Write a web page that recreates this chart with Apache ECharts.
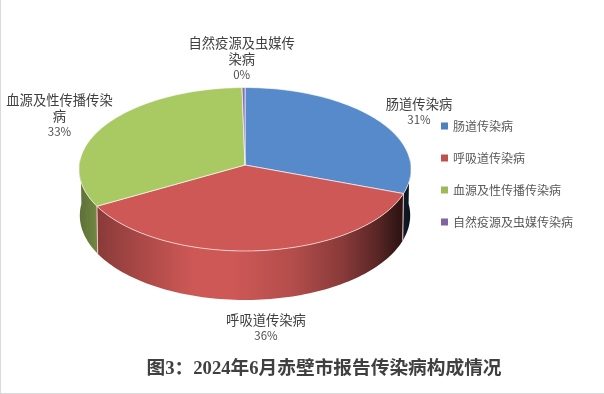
<!DOCTYPE html>
<html>
<head>
<meta charset="utf-8">
<style>
html,body{margin:0;padding:0;background:#fff;}
#main{position:absolute;left:0;top:0;width:604px;height:394px;}
</style>
<script src="https://cdn.jsdelivr.net/npm/echarts@6/dist/echarts.min.js"></script>
</head>
<body>
<div id="main"></div>
<script>
var categories = ['肠道传染病', '呼吸道传染病', '血源及性传播传染病', '自然疫源及虫媒传染病'];
var values = [30.6, 36.2, 32.9, 0.3];
var labelLines = ['肠道传染病', '呼吸道传染病', '血源及性传播传染\n病', '自然疫源及虫媒传\n染病'];
var legendColors = ['#4F81BD', '#C0504D', '#9BBB59', '#8064A2'];
var faceColors = ['#568ACA', '#CE5856', '#A9C963', '#8D6BB0'];
var titleText = '图3：2024年6月赤壁市报告传染病构成情况';

var labelAnchors = [[419, 96], [266, 312], [59.5, 92], [241.7, 35]];
var G = {cx: 245, cy: 165, a: 165.8, b: 81.5, k: -0.052};
var shade = [[0, .55], [.05, .66], [.2, .84], [.345, 1], [.465, 1], [.645, .87], [.795, .66], [.895, .44], [.975, .2], [1, .13]];
var FONT = '"Noto Sans CJK SC","Microsoft YaHei",sans-serif';

function hexMul(hex, f) {
  var n = parseInt(hex.slice(1), 16);
  var c = [(n >> 16) & 255, (n >> 8) & 255, n & 255].map(function (x) { return Math.round(x * f); });
  return 'rgb(' + c.join(',') + ')';
}
function topPt(t) {
  var r = t * Math.PI / 180, u = Math.sin(r), v = -Math.cos(r), d = 1 + G.k * v;
  return [G.cx + G.a * u / d, G.cy + G.b * v / d];
}
function botPt(t) {
  var r = t * Math.PI / 180, v = -Math.cos(r), p = topPt(t);
  return [G.cx + (p[0] - G.cx) * 0.995, p[1] + 46 + 3 * Math.max(v, 0)];
}
var total = values.reduce(function (s, x) { return s + x; }, 0);
function startAngle(i) {
  var s = 0;
  for (var j = 0; j < i; j++) s += values[j];
  return s / total * 360;
}
function arc(fn, a0, a1) {
  var pts = [], n = Math.max(2, Math.ceil(Math.abs(a1 - a0) / 1.5));
  for (var i = 0; i <= n; i++) pts.push(fn(a0 + (a1 - a0) * i / n));
  return pts;
}
function renderSlice(i) {
  return function (params, api) {
    var val = api.value(0);
    var a0 = startAngle(i), a1 = a0 + val / total * 360;
    var kids = [];
    var w0 = Math.max(a0, 85), w1 = Math.min(a1, 275);
    if (w1 > w0) {
      kids.push({
        type: 'polygon', z2: 1, silent: true,
        shape: {points: arc(topPt, w0, w1).concat(arc(botPt, w1, w0))},
        style: {fill: {type: 'linear', x: 79, y: 0, x2: 411, y2: 0, global: true,
          colorStops: shade.map(function (s) { return {offset: s[0], color: hexMul(faceColors[i], s[1])}; })}}
      });
      [a0, a1].forEach(function (t) {
        if (t >= 90 && t <= 270) {
          var p = topPt(t), q = botPt(t);
          kids.push({type: 'line', z2: 2, silent: true,
            shape: {x1: p[0], y1: p[1], x2: q[0], y2: q[1]},
            style: {stroke: 'rgba(255,215,215,0.55)', lineWidth: 1}});
        }
      });
    }
    kids.push({
      type: 'polygon', z2: 3, silent: true,
      shape: {points: [[G.cx, G.cy]].concat(arc(topPt, a0, a1))},
      style: {fill: faceColors[i], stroke: 'rgba(255,255,255,0.8)', lineWidth: 0.8}
    });
    var an = labelAnchors[i], lines = labelLines[i];
    var nLines = lines.split('\n').length;
    kids.push({
      type: 'text', z2: 5, silent: true,
      style: {text: lines, x: an[0], y: an[1], align: 'center', verticalAlign: 'top',
        fontFamily: FONT, fontSize: 13.3, lineHeight: 16, fill: '#404040'}
    });
    kids.push({
      type: 'text', z2: 5, silent: true,
      style: {text: Math.round(val / total * 100) + '%', x: an[0], y: an[1] + nLines * 16 + 1, align: 'center', verticalAlign: 'top',
        fontFamily: FONT, fontSize: 11.5, lineHeight: 14, fill: '#505050'}
    });
    return {type: 'group', children: kids};
  };
}

var chart = echarts.init(document.getElementById('main'), null, {renderer: 'canvas'});
chart.setOption({
  backgroundColor: '#fff',
  animation: false,
  title: {
    text: titleText, left: 319, top: 355, textAlign: 'center',
    textStyle: {fontFamily: '"Liberation Serif","Noto Sans CJK SC",serif', fontWeight: 'bold', fontSize: 18.7, color: '#404040'}
  },
  legend: {
    orient: 'vertical', left: 441, top: 118, icon: 'rect',
    itemWidth: 7, itemHeight: 7, itemGap: 16, padding: 0,
    textStyle: {fontFamily: FONT, fontSize: 12, color: '#595959', padding: [0, 0, 0, 0], lineHeight: 16},
    data: categories.map(function (n, i) { return {name: n, itemStyle: {color: legendColors[i]}}; })
  },
  graphic: [
    {type: 'rect', silent: true, shape: {x: 0, y: 0, width: 1, height: 394}, style: {fill: '#d9d9d9'}},
    {type: 'rect', silent: true, shape: {x: 0, y: 393, width: 604, height: 1}, style: {fill: '#d9d9d9'}}
  ],
  series: categories.map(function (n, i) {
    return {
      type: 'custom', name: n, coordinateSystem: 'none', silent: true,
      itemStyle: {color: legendColors[i]},
      data: [[values[i]]],
      renderItem: renderSlice(i)
    };
  })
});
</script>
</body>
</html>
